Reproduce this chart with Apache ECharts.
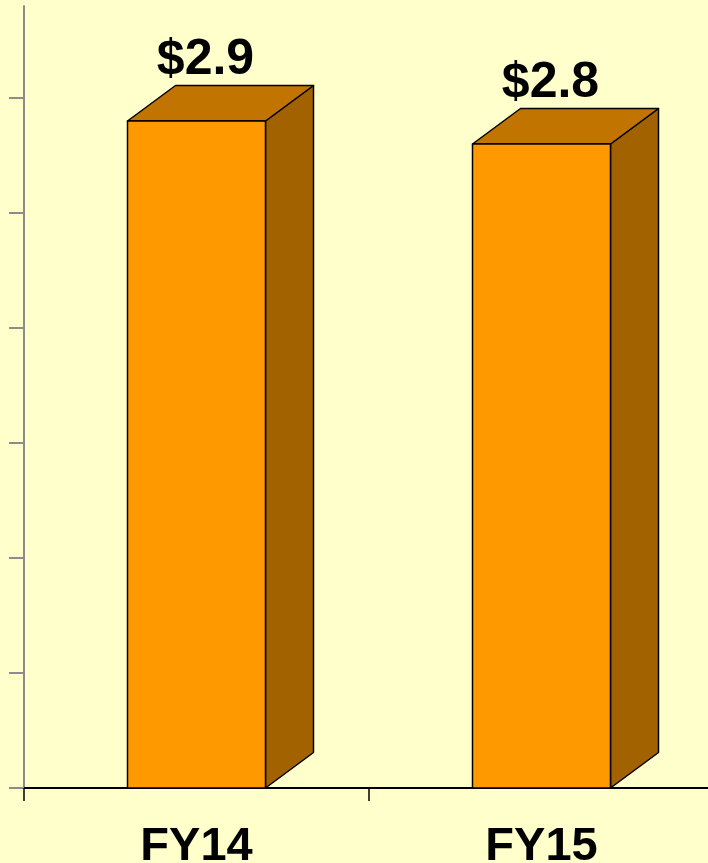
<!DOCTYPE html>
<html>
<head>
<meta charset="utf-8">
<script src="https://cdn.jsdelivr.net/npm/echarts@6/dist/echarts.min.js"></script>
<style>
  html, body { margin: 0; padding: 0; background: #FFFFCC; overflow: hidden; }
  #chart { width: 708px; height: 863px; }
</style>
</head>
<body>
<div id="chart"></div>
<script>
const categories = ['FY14', 'FY15'];
const values = [2.9, 2.8];
const yTicks = [0, 0.5, 1, 1.5, 2, 2.5, 3];

const FONT = "'Liberation Sans', Arial, sans-serif";
const DX = 48, DY = 35.5;

const chart = echarts.init(document.getElementById('chart'));
chart.setOption({
  backgroundColor: '#FFFFCC',
  animation: false,
  grid: { left: 24, right: -6, top: 6, bottom: 75, containLabel: false, outerBoundsMode: 'none' },
  xAxis: {
    type: 'category',
    data: categories,
    boundaryGap: true,
    axisLine: { show: true, lineStyle: { color: '#000', width: 2 } },
    axisTick: { show: true, length: 13, alignWithLabel: false, lineStyle: { color: '#000', width: 1.5 } },
    axisLabel: { fontSize: 47, fontWeight: 'bold', color: '#000', fontFamily: FONT, margin: 36 },
    splitLine: { show: false }
  },
  yAxis: {
    type: 'value',
    min: 0,
    max: 3.4,
    interval: 0.5,
    axisLine: { show: true, lineStyle: { color: '#8c8c8c', width: 2 } },
    axisTick: { show: true, length: 15, customValues: yTicks, lineStyle: { color: '#8c8c8c', width: 2 } },
    axisLabel: { show: false },
    splitLine: { show: false }
  },
  series: [{
    type: 'custom',
    data: values.map((v, i) => [i, v]),
    encode: { x: 0, y: 1 },
    z: 3,
    renderItem: function (params, api) {
      const xi = api.value(0), v = api.value(1);
      const top = api.coord([xi, v]);
      const base = api.coord([xi, 0]);
      const w = api.size([1, 0])[0] * 0.4;
      const l = top[0] - w / 2, r = top[0] + w / 2, t = top[1], b = base[1];
      const stroke = { stroke: '#000', lineWidth: 1.5, lineJoin: 'round' };
      return {
        type: 'group',
        children: [
          { type: 'polygon', shape: { points: [[r, t], [r + DX, t - DY], [r + DX, b - DY], [r, b]] },
            style: Object.assign({ fill: '#A36200' }, stroke) },
          { type: 'polygon', shape: { points: [[l, t], [l + DX, t - DY], [r + DX, t - DY], [r, t]] },
            style: Object.assign({ fill: '#C27400' }, stroke) },
          { type: 'polygon', shape: { points: [[l, t], [r, t], [r, b], [l, b]] },
            style: Object.assign({ fill: '#FF9900' }, stroke) },
          { type: 'text',
            style: { text: '$' + v.toFixed(1), x: top[0] + 9, y: t - DY - 25,
              align: 'center', verticalAlign: 'middle',
              fontSize: 50, fontWeight: 'bold', fontFamily: FONT, fill: '#000' } }
        ]
      };
    }
  }]
});
</script>
</body>
</html>
